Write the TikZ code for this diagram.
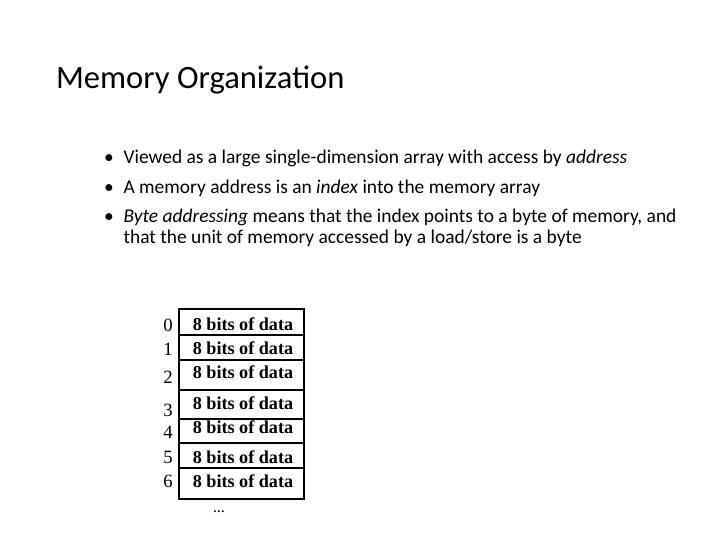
\documentclass[tikz,border=0pt]{standalone}
\usepackage{fontspec}
\setmainfont{Carlito}
\newfontfamily\tabfont{Liberation Serif}
\usetikzlibrary{positioning}
\begin{document}
\begin{tikzpicture}[
    x=0.03cm, y=-0.03cm,
    bullet/.style={anchor=west, font=\fontsize{16.6}{18}\selectfont, align=left},
    cell/.style={anchor=center, font=\tabfont\bfseries\fontsize{15.5}{16}\selectfont},
    addr/.style={anchor=center, font=\tabfont\fontsize{16}{17}\selectfont}
]
\useasboundingbox (0,0) rectangle (720,540);

% Title
\node[anchor=west, font=\fontsize{27.8}{30}\selectfont] (title) at (52,80) {Memory Organization};

% Bullets
\node[bullet] (b1) at (100,158) {\textbullet\enspace Viewed as a large single-dimension array with access by \textit{address}};
\node[bullet] (b2) at (100,188) {\textbullet\enspace A memory address is an \textit{index} into the memory array};
\node[bullet] (b3) at (100,228) {\textbullet\enspace \textit{Byte addressing} means that the index points to a byte of memory, and\\
\hphantom{\textbullet\enspace}that the unit of memory accessed by a load/store is a byte};

% Memory array
\def\xL{179}
\def\xR{304}
\draw[line width=1pt] (\xL,309) rectangle (\xR,499);
\foreach \y in {335,360,390,419,443,468}
    \draw[line width=1pt] (\xL,\y) -- (\xR,\y);

\foreach \y/\yc/\i in {325/324/0, 349/348/1, 377/372/2, 410/403/3, 432/427/4, 457/457/5, 481/481/6} {
    \node[addr] (a\i) at (168,\y) {\i};
    \node[cell] (c\i) at (243,\yc) {8 bits of data};
}

\node[font=\tabfont\bfseries] (dots) at (219,512) {\dots};
\end{tikzpicture}
\end{document}
